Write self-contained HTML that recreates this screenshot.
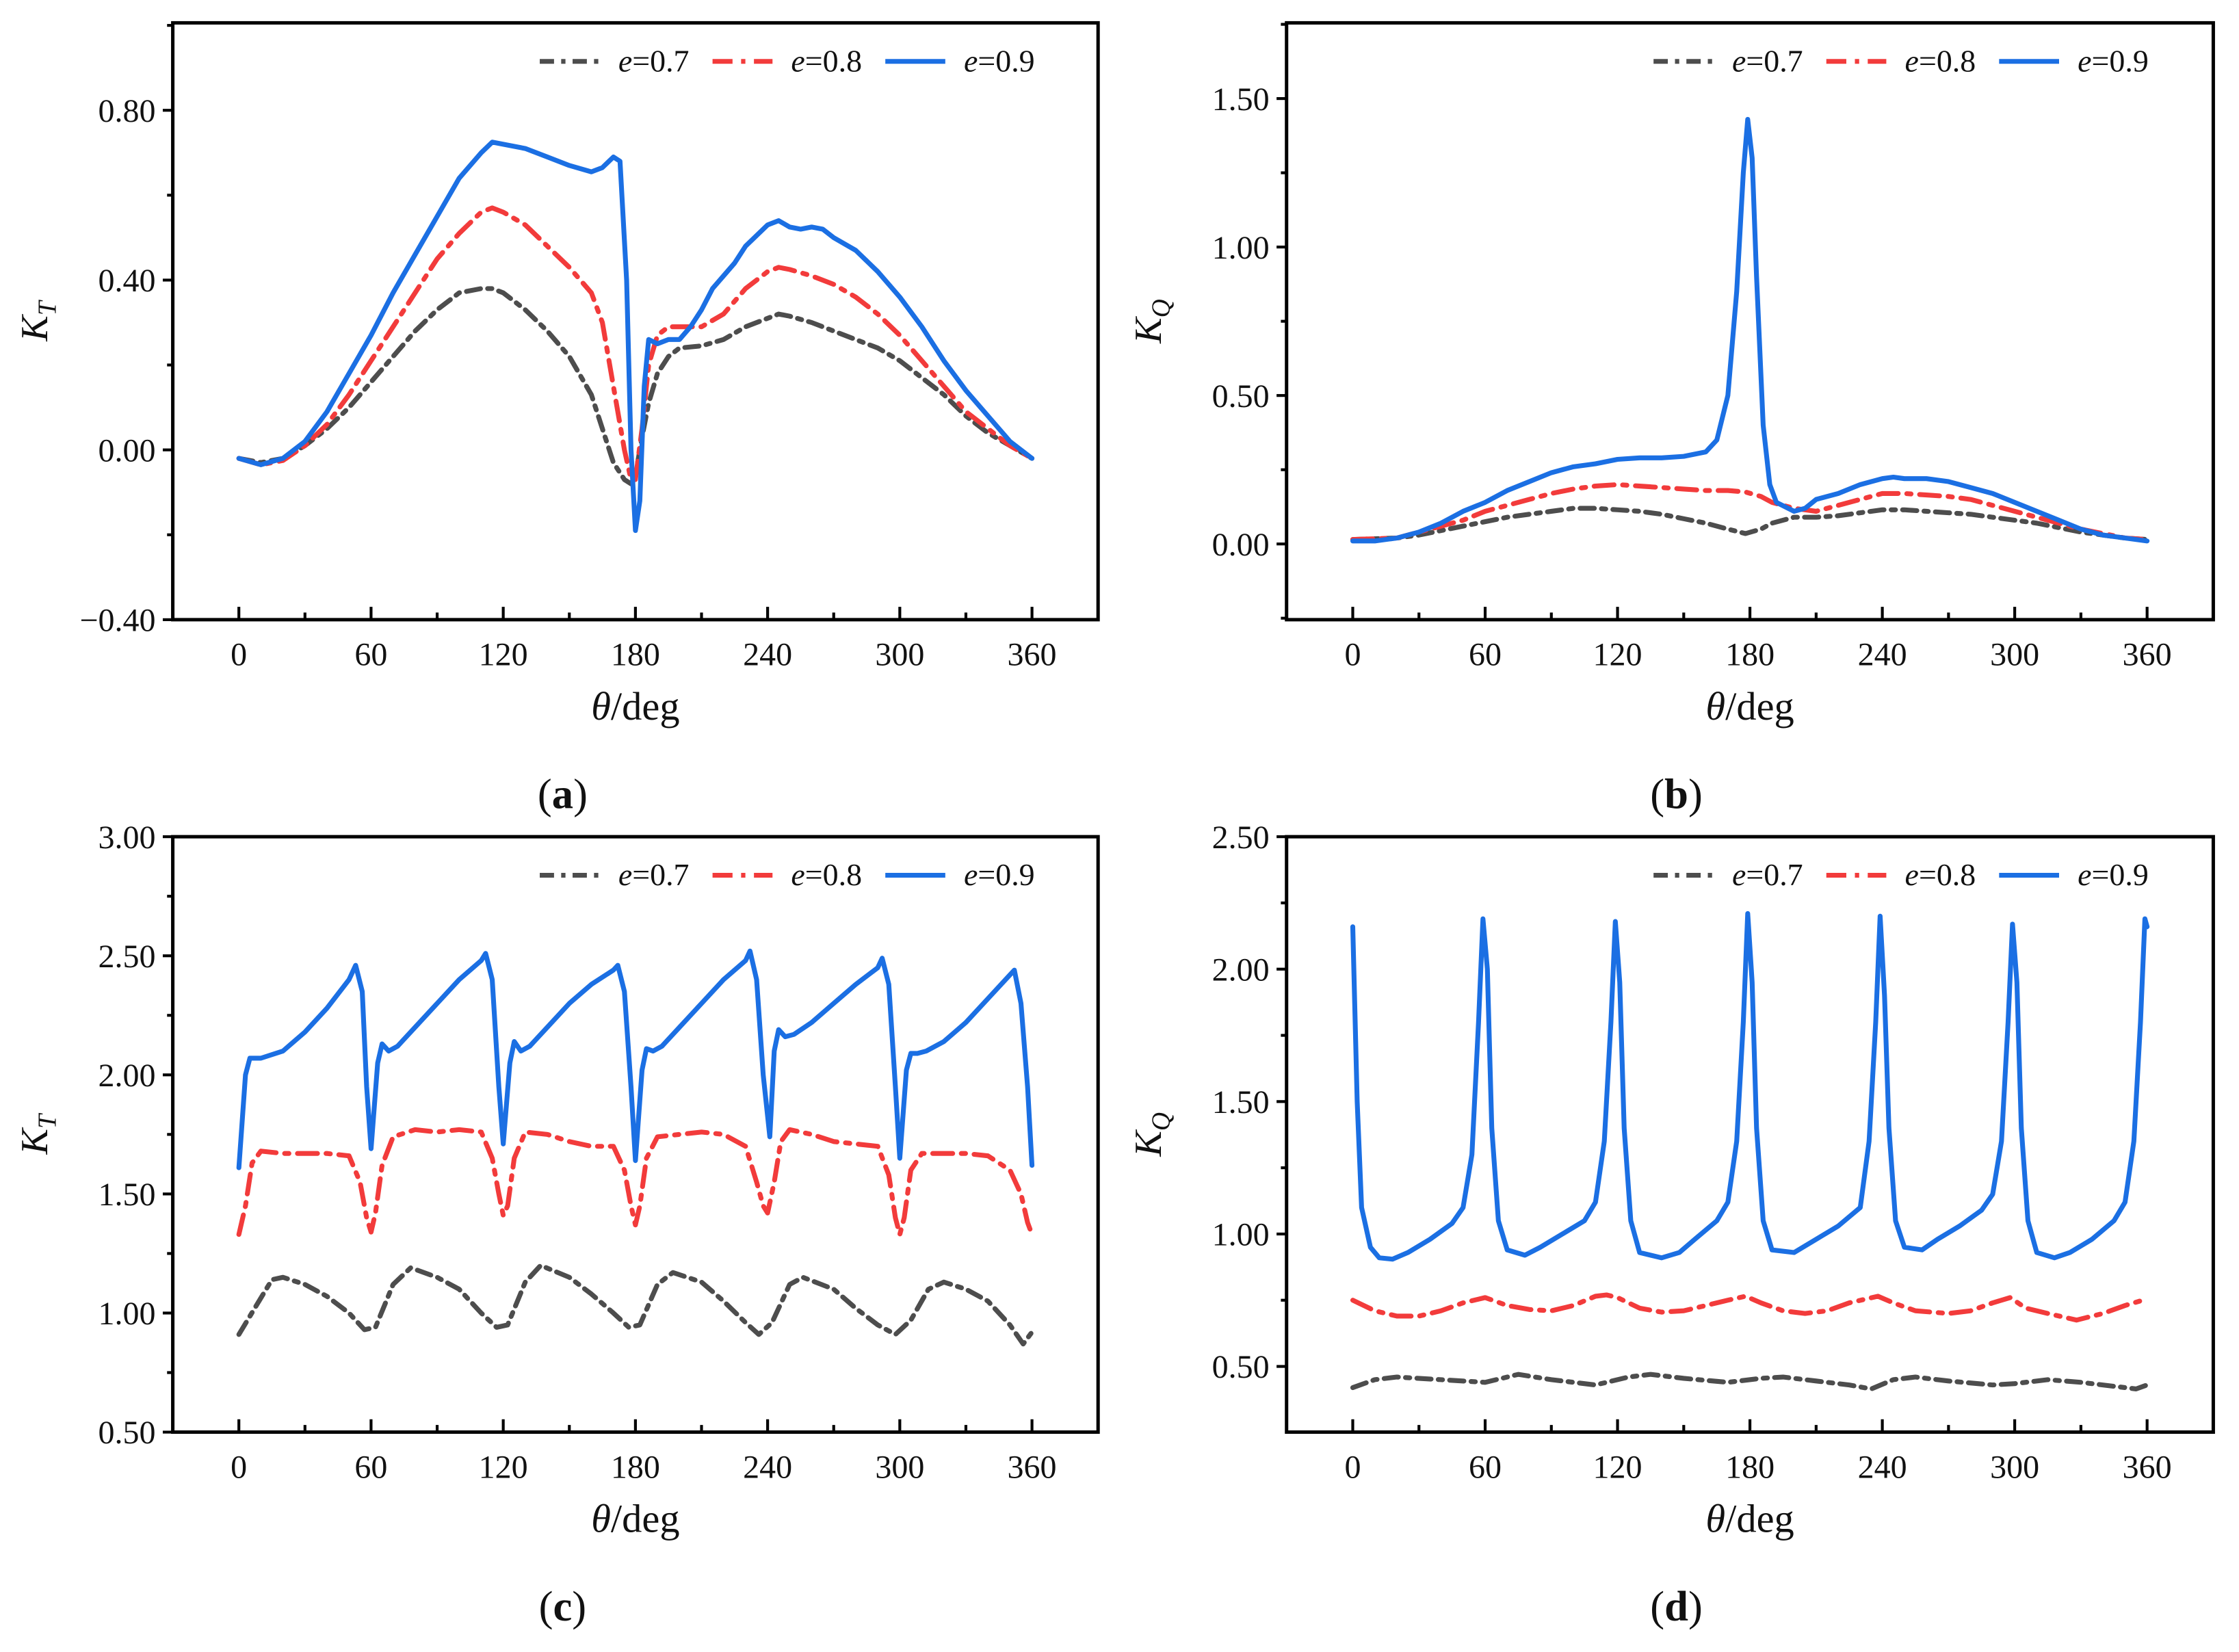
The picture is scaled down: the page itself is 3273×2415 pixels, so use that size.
<!DOCTYPE html>
<html><head><meta charset="utf-8"><style>
html,body{margin:0;padding:0;background:#fff;}
svg{display:block;}
text{font-family:"Liberation Serif",serif;fill:#111;}
</style></head><body>
<svg id="fig" width="3273" height="2415" viewBox="0 0 1568 1157" preserveAspectRatio="none" xmlns="http://www.w3.org/2000/svg"></svg>
<script>
// ---- Panel (a) K_T ----
const aX9=[0,10,20,30,40,50,60,70,80,90,100,110,115,120,130,140,150,160,165,170,173,176,178,180,182,184,186,190,195,200,205,210,215,220,225,230,240,245,250,255,260,265,270,280,290,300,310,320,330,340,350,360];
const aY9=[-0.02,-0.035,-0.02,0.02,0.09,0.18,0.27,0.37,0.46,0.55,0.64,0.70,0.725,0.72,0.71,0.69,0.67,0.655,0.665,0.69,0.68,0.4,0.0,-0.19,-0.12,0.15,0.26,0.25,0.26,0.26,0.29,0.33,0.38,0.41,0.44,0.48,0.53,0.54,0.525,0.52,0.525,0.52,0.50,0.47,0.42,0.36,0.29,0.21,0.14,0.08,0.02,-0.02];
const aX8=[0,10,20,30,40,50,60,70,80,90,100,110,115,120,130,140,150,160,165,170,175,178,180,183,186,190,195,200,210,220,230,240,245,250,260,270,280,290,300,310,320,330,340,350,360];
const aY8=[-0.02,-0.035,-0.025,0.01,0.06,0.13,0.21,0.29,0.37,0.45,0.51,0.56,0.57,0.56,0.53,0.48,0.43,0.37,0.30,0.15,0.0,-0.07,-0.07,0.05,0.20,0.27,0.29,0.29,0.29,0.32,0.38,0.42,0.43,0.425,0.41,0.39,0.36,0.32,0.27,0.21,0.15,0.09,0.05,0.01,-0.02];
const aX7=[0,10,20,30,40,50,60,70,80,90,100,110,115,120,130,140,150,160,165,170,175,178,180,183,186,190,195,200,210,220,230,240,245,250,260,270,280,290,300,310,320,330,340,350,360];
const aY7=[-0.02,-0.03,-0.02,0.01,0.05,0.10,0.16,0.22,0.28,0.33,0.37,0.38,0.38,0.37,0.33,0.28,0.22,0.13,0.05,-0.03,-0.07,-0.08,-0.06,0.03,0.11,0.18,0.22,0.24,0.245,0.26,0.29,0.31,0.32,0.315,0.30,0.28,0.26,0.24,0.21,0.17,0.13,0.08,0.04,0.01,-0.02];
const aTicks=[-0.40,0.00,0.40,0.80];
// ---- Panel (b) K_Q ----
const bX9=[0,10,20,30,40,50,60,70,80,90,100,110,120,130,140,150,160,165,170,174,177,179,181,183,186,189,192,200,205,210,220,230,240,245,250,260,270,280,290,300,310,320,330,340,350,360];
const bY9=[0.01,0.01,0.02,0.04,0.07,0.11,0.14,0.18,0.21,0.24,0.26,0.27,0.285,0.29,0.29,0.295,0.31,0.35,0.5,0.85,1.25,1.43,1.3,0.9,0.4,0.2,0.14,0.11,0.12,0.15,0.17,0.20,0.22,0.225,0.22,0.22,0.21,0.19,0.17,0.14,0.11,0.08,0.05,0.03,0.02,0.01];
const bX8=[0,20,30,40,50,60,70,80,90,100,110,120,130,140,150,160,170,178,185,190,200,210,220,230,240,250,260,270,280,290,300,310,320,330,340,350,360];
const bY8=[0.015,0.02,0.04,0.06,0.08,0.11,0.13,0.15,0.17,0.185,0.195,0.2,0.195,0.19,0.185,0.18,0.18,0.175,0.16,0.14,0.12,0.11,0.13,0.15,0.17,0.17,0.165,0.16,0.15,0.13,0.11,0.09,0.07,0.05,0.035,0.02,0.015];
const bX7=[0,20,30,40,50,60,70,80,90,100,110,120,130,140,150,160,170,178,185,190,200,210,220,230,240,250,260,270,280,290,300,310,320,330,340,350,360];
const bY7=[0.015,0.02,0.03,0.045,0.06,0.075,0.09,0.10,0.11,0.12,0.12,0.115,0.11,0.10,0.085,0.07,0.05,0.035,0.05,0.07,0.09,0.09,0.095,0.105,0.115,0.115,0.11,0.105,0.10,0.09,0.08,0.07,0.055,0.04,0.03,0.02,0.015];
const bTicks=[0.00,0.50,1.00,1.50];
// ---- Panel (c) K_T ----
const cX9=[0,3,5,10,20,30,40,50,53,56,58,60,63,65,68,72,80,90,100,110,112,115,118,120,123,125,128,132,140,150,160,170,172,175,178,180,183,185,188,192,200,210,220,230,232,235,238,241,243,245,248,252,260,270,280,290,292,295,298,300,303,305,308,312,320,330,340,350,352,355,358,360];
const cY9=[1.61,2.0,2.07,2.07,2.10,2.18,2.28,2.40,2.46,2.35,1.95,1.69,2.05,2.13,2.10,2.12,2.20,2.30,2.40,2.48,2.51,2.40,1.95,1.71,2.05,2.14,2.10,2.12,2.20,2.30,2.38,2.44,2.46,2.35,1.95,1.64,2.02,2.11,2.10,2.12,2.20,2.30,2.40,2.48,2.52,2.40,2.00,1.74,2.10,2.19,2.16,2.17,2.22,2.30,2.38,2.45,2.49,2.38,1.95,1.65,2.02,2.09,2.09,2.10,2.14,2.22,2.32,2.42,2.44,2.30,1.95,1.62];
const cX8=[0,3,6,10,20,30,40,50,55,58,60,62,65,70,80,90,100,110,115,118,120,122,125,130,140,150,160,170,175,178,180,182,185,190,200,210,220,230,235,238,240,243,246,250,260,270,280,290,295,298,300,302,305,310,320,330,340,350,355,358,360];
const cY8=[1.33,1.45,1.63,1.68,1.67,1.67,1.67,1.66,1.55,1.40,1.34,1.42,1.62,1.74,1.77,1.76,1.77,1.76,1.65,1.50,1.41,1.45,1.65,1.76,1.75,1.72,1.70,1.70,1.60,1.45,1.37,1.45,1.65,1.74,1.75,1.76,1.75,1.70,1.55,1.45,1.42,1.55,1.72,1.77,1.75,1.72,1.71,1.70,1.58,1.40,1.33,1.40,1.60,1.67,1.67,1.67,1.66,1.60,1.50,1.38,1.33];
const cX7=[0,15,20,30,40,50,57,62,70,78,90,100,110,117,122,130,137,150,160,170,177,182,190,197,210,220,230,236,242,250,256,270,280,290,298,305,313,320,330,340,350,356,360];
const cY7=[0.91,1.14,1.15,1.12,1.07,1.0,0.93,0.94,1.12,1.19,1.15,1.1,1.0,0.94,0.95,1.13,1.20,1.15,1.08,1.0,0.94,0.95,1.12,1.17,1.13,1.05,0.96,0.91,0.96,1.12,1.15,1.10,1.02,0.95,0.91,0.97,1.10,1.13,1.10,1.05,0.95,0.87,0.92];
const cTicks=[0.50,1.00,1.50,2.00,2.50,3.00];
// ---- Panel (d) K_Q ----
const dX9=[0,2,4,8,12,18,25,35,45,50,54,57,59,61,63,66,70,78,85,95,105,110,114,117,119,121,123,126,130,140,148,155,165,170,174,177,179,181,183,186,190,200,210,220,230,234,237,239,241,243,246,250,258,265,275,285,290,294,297,299,301,303,306,310,318,325,335,345,350,354,357,359,360];
const dY9=[2.16,1.5,1.1,0.95,0.91,0.905,0.93,0.98,1.04,1.10,1.3,1.8,2.19,2.0,1.4,1.05,0.94,0.92,0.95,1.0,1.05,1.12,1.35,1.8,2.18,1.95,1.4,1.05,0.93,0.91,0.93,0.98,1.05,1.12,1.35,1.8,2.21,1.95,1.4,1.05,0.94,0.93,0.98,1.03,1.1,1.35,1.8,2.2,1.9,1.4,1.05,0.95,0.94,0.98,1.03,1.09,1.15,1.35,1.8,2.17,1.95,1.4,1.05,0.93,0.91,0.93,0.98,1.05,1.12,1.35,1.8,2.19,2.16];
const dX8=[0,10,20,30,40,50,60,70,80,90,100,110,115,120,130,140,150,160,170,178,185,195,205,215,225,238,245,255,270,280,290,298,305,315,328,340,350,358];
const dY8=[0.75,0.71,0.69,0.69,0.71,0.74,0.76,0.73,0.715,0.71,0.73,0.765,0.77,0.76,0.72,0.705,0.71,0.73,0.75,0.765,0.74,0.71,0.70,0.71,0.74,0.765,0.74,0.71,0.70,0.71,0.74,0.76,0.72,0.70,0.675,0.70,0.73,0.75];
const dX7=[0,10,20,40,60,70,75,90,110,125,135,150,170,185,195,210,225,235,245,255,270,290,300,315,330,345,355,360];
const dY7=[0.42,0.45,0.46,0.45,0.44,0.46,0.47,0.45,0.43,0.46,0.47,0.455,0.44,0.455,0.46,0.445,0.43,0.415,0.45,0.46,0.445,0.43,0.435,0.45,0.44,0.425,0.415,0.43];
const dTicks=[0.50,1.00,1.50,2.00,2.50];
const xTicks=[0,60,120,180,240,300,360];

const NS='http://www.w3.org/2000/svg';
const svg=document.getElementById('fig');
function mk(tag,attrs,parent){const e=document.createElementNS(NS,tag);for(const k in attrs)e.setAttribute(k,attrs[k]);(parent||svg).appendChild(e);return e;}

function panel(id,L,T,R,B,ymin,ymax,yTicks,yMinorStep,ylab,sub,series,letter){
  const g=mk('g',{});
  
  
  const sx=v=>L+(v+30)/420*(R-L);
  const sy=v=>B-(v-ymin)/(ymax-ymin)*(B-T);
  for(let v=yTicks[0]-yMinorStep*4;v<=ymax+1e-9;v+=yMinorStep){
    if(v<ymin-1e-9)continue;
    const major=yTicks.some(t=>Math.abs(t-v)<1e-6);
    const t=mk('line',{x1:L,x2:L-(major?7:4),y1:sy(v),y2:sy(v),stroke:'#000','stroke-width':2},g);
    
    
  }
  yTicks.forEach(v=>{
    const t=mk('text',{x:L-12,y:sy(v)+8,'text-anchor':'end','font-size':23},g);
    
    
    t.textContent=(v<0?'\u2212':'')+Math.abs(v).toFixed(2);
  });
  for(let v=0;v<=360;v+=30){
    const major=v%60===0;
    const t=mk('line',{x1:sx(v),x2:sx(v),y1:B,y2:B-(major?9:5),stroke:'#000','stroke-width':2},g);
    
    
  }
  xTicks.forEach(v=>{
    const t=mk('text',{x:sx(v),y:B+32,'text-anchor':'middle','font-size':23},g);
    
    
    t.textContent=v;
  });
  const xl=mk('text',{x:(L+R)/2,y:B+70,'text-anchor':'middle','font-size':28},g);
  
  
  xl.innerHTML='<tspan font-style="italic">θ</tspan>/deg';
  const yl=mk('text',{transform:`translate(${L-88},${(T+B)/2}) rotate(-90)`,'text-anchor':'middle','font-size':27},g);
  
  
  yl.innerHTML='<tspan font-style="italic">K</tspan><tspan font-style="italic" font-size="18" dy="6">'+sub+'</tspan>';
  const styles=[{c:'#4d4d4d',d:'10 5 3 5',n:'0.7'},{c:'#f23b3b',d:'14 6 3 6',n:'0.8'},{c:'#1b6fe3',d:'',n:'0.9'}];
  series.forEach((s,i)=>{
    const st=styles[i];
    const pts=s[0].map((x,j)=>sx(x).toFixed(2)+','+sy(s[1][j]).toFixed(2)).join(' ');
    const p=mk('polyline',{points:pts,fill:'none',stroke:st.c,'stroke-width':3.4,'stroke-linejoin':'round','stroke-linecap':'round'},g);
    if(st.d)p.setAttribute('stroke-dasharray',st.d);
    
    
    const lx=L+257+i*121, ly=T+27;
    const ll=mk('line',{x1:lx,x2:lx+42,y1:ly,y2:ly,stroke:st.c,'stroke-width':3.4},g);
    if(st.d)ll.setAttribute('stroke-dasharray',st.d);
    
    
    const lt=mk('text',{x:lx+55,y:ly+7,'font-size':22},g);
    
    
    lt.innerHTML='<tspan font-style="italic">e</tspan>=0.'+(7+i);
  });
  const fr=mk('rect',{x:L,y:T,width:R-L,height:B-T,fill:'none',stroke:'#000','stroke-width':2.4},g);
  
  
  const pl=mk('text',{x:L+273,y:B+132,'text-anchor':'middle','font-size':30},g);
  
  
  pl.innerHTML='(<tspan font-weight="bold">'+letter+'</tspan>)';
}
panel('a',121,16,769,434,-0.40,1.006,aTicks,0.2,'K','T',[[aX7,aY7],[aX8,aY8],[aX9,aY9]],'a');
panel('b',901,16,1550,434,-0.255,1.755,bTicks,0.25,'K','Q',[[bX7,bY7],[bX8,bY8],[bX9,bY9]],'b');
panel('c',121,586,769,1003,0.50,3.00,cTicks,0.25,'K','T',[[cX7,cY7],[cX8,cY8],[cX9,cY9]],'c');
panel('d',901,586,1550,1003,0.252,2.50,dTicks,0.25,'K','Q',[[dX7,dY7],[dX8,dY8],[dX9,dY9]],'d');
</script>
</body></html>
